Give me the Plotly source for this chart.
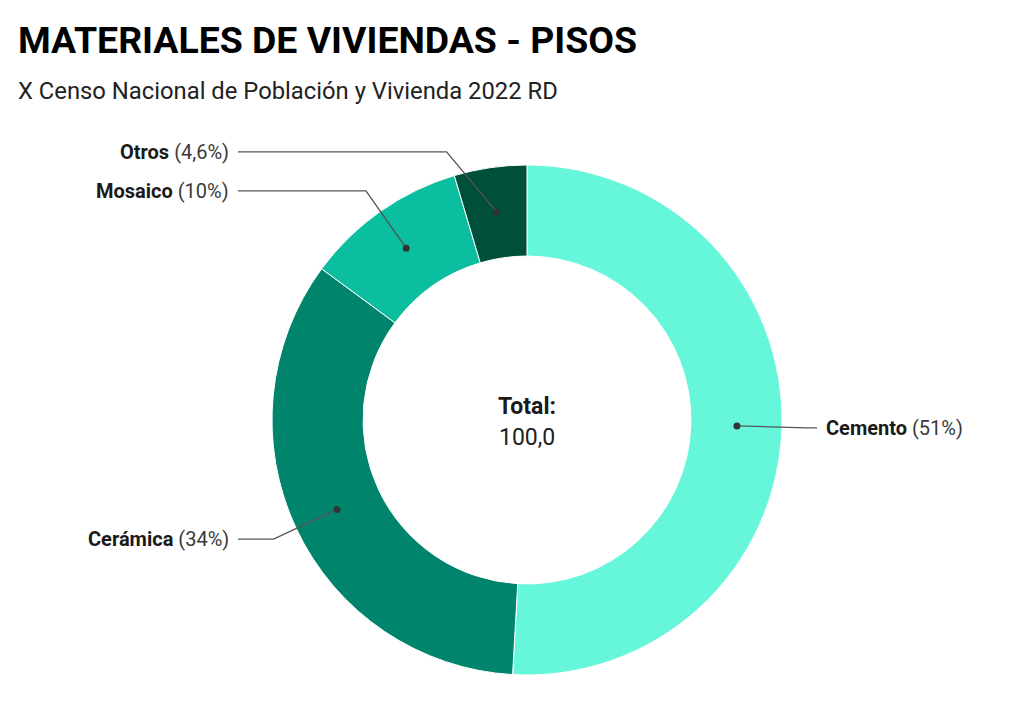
import numpy as np
import plotly.graph_objects as go

# %%
# Data
materiales = ["Cemento", "Cerámica", "Mosaico", "Otros"]
porcentajes = [50.9, 34.2, 10.3, 4.6]
colores = ["#66f6d9", "#00846b", "#0bbea0", "#004f3b"]

titulo = "MATERIALES DE VIVIENDAS - PISOS"
subtitulo = "X Censo Nacional de Población y Vivienda 2022 RD"

# %%
# Geometry (pixels)
W, H = 1024, 712
cx, cy, r_out = 527, 420, 255
hole = 0.643
r_dot = 210
r_elbow = 280
label_shift = [0, 0, 0, -8.4]      # degrees, nudges crowded labels
line_end_left, line_end_right = 238, 817
text_gap = 7


def fmt_pct(v):
    if v >= 10:
        return f"{v:.0f}%"
    return f"{v:.1f}%".replace(".", ",")


fig = go.Figure()
fig.add_trace(go.Pie(
    labels=materiales,
    values=porcentajes,
    marker=dict(colors=colores, line=dict(color="white", width=1)),
    hole=hole,
    sort=False,
    direction="clockwise",
    rotation=0,
    textinfo="none",
    hoverinfo="label+percent",
    showlegend=False,
    domain=dict(x=[(cx - r_out) / W, (cx + r_out) / W],
                y=[(H - cy - r_out) / H, (H - cy + r_out) / H]),
))

# leader lines, dots and labels from slice mid angles
total = sum(porcentajes)
start = 0.0
annotations = []
shapes = []
for name, v, shift in zip(materiales, porcentajes, label_shift):
    mid = start + v / total * 360 / 2
    start += v / total * 360
    a = np.radians(mid)
    ae = np.radians(mid + shift)
    dx, dy = cx + r_dot * np.sin(a), cy - r_dot * np.cos(a)
    ex, ey = cx + r_elbow * np.sin(ae), cy - r_elbow * np.cos(ae)
    right = np.sin(a) > 0
    lx = line_end_right if right else line_end_left
    shapes.append(dict(
        type="path", xref="x", yref="y", layer="above",
        path=f"M {dx:.1f} {dy:.1f} L {ex:.1f} {ey:.1f} L {lx} {ey:.1f}",
        line=dict(color="#555555", width=1.3)))
    shapes.append(dict(
        type="circle", xref="x", yref="y", layer="above",
        x0=dx - 3.5, x1=dx + 3.5, y0=dy - 3.5, y1=dy + 3.5,
        fillcolor="#333333", line=dict(width=0)))
    annotations.append(dict(
        x=lx + text_gap if right else lx - text_gap, y=ey,
        xref="x", yref="y",
        xanchor="left" if right else "right", yanchor="middle",
        text=f"<b>{name}</b> <span style='color:#3a3a3a'>({fmt_pct(v)})</span>",
        showarrow=False,
        font=dict(family="Roboto", size=20, color="#1a1a1a")))

# center total
annotations.append(dict(x=cx, y=406, xref="x", yref="y", showarrow=False,
                        text="<b>Total:</b>", xanchor="center", yanchor="middle",
                        font=dict(family="Roboto", size=23, color="#1a1a1a")))
annotations.append(dict(x=cx, y=437, xref="x", yref="y", showarrow=False,
                        text=f"{total:.1f}".replace(".", ","),
                        xanchor="center", yanchor="middle",
                        font=dict(family="Roboto", size=23, color="#222222")))

# title + subtitle
annotations.append(dict(x=16, y=40, xref="x", yref="y", showarrow=False,
                        text=f"<b>{titulo}</b>", xanchor="left", yanchor="middle",
                        font=dict(family="Roboto", size=37.4, color="#000000")))
annotations.append(dict(x=16, y=91, xref="x", yref="y", showarrow=False,
                        text=subtitulo, xanchor="left", yanchor="middle",
                        font=dict(family="Roboto", size=23.8, color="#222222")))

fig.update_layout(
    width=W, height=H,
    margin=dict(l=0, r=0, t=0, b=0),
    paper_bgcolor="white", plot_bgcolor="rgba(0,0,0,0)",
    xaxis=dict(range=[0, W], visible=False, fixedrange=True),
    yaxis=dict(range=[H, 0], visible=False, fixedrange=True),
    annotations=annotations,
    shapes=shapes,
)

fig.write_html("out.html", config={"displayModeBar": False},
               post_script="document.body.style.margin='0';")
